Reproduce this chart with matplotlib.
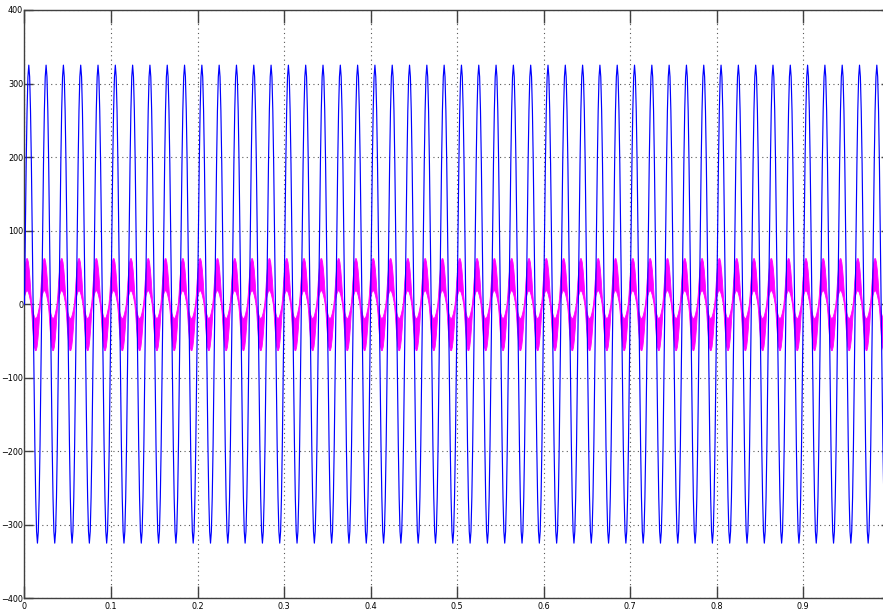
import numpy as np
import matplotlib
matplotlib.use("Agg")
import matplotlib.pyplot as plt

# one period (0.02 s, 20 samples), repeated 50 times
dt = 0.001
n_cycles = 50

voltage_cycle = [0, 100.4, 191.0, 262.9, 309.1, 325.0, 309.1, 262.9, 191.0, 100.4,
                 0, -100.4, -191.0, -262.9, -309.1, -325.0, -309.1, -262.9, -191.0, -100.4]

# magenta band (switching current): outer and inner edge of the ripple
current_upper = [47.0, 57.5, 62.5, 62.5, 57.5, 47.0, 32.0, 13.0, -0.4, -7.0,
                 -12.6, -16.6, -18.7, -18.7, -16.6, -12.6, -7.0, -0.4, 13.0, 32.0]
current_lower = [12.6, 16.6, 18.7, 18.7, 16.6, 12.6, 7.0, 0.4, -13.0, -32.0,
                 -47.0, -57.5, -62.5, -62.5, -57.5, -47.0, -32.0, -13.0, 0.4, 7.0]

x_ticks = [0, 0.1, 0.2, 0.3, 0.4, 0.5, 0.6, 0.7, 0.8, 0.9]
x_labels = ['0', '0.1', '0.2', '0.3', '0.4', '0.5', '0.6', '0.7', '0.8', '0.9']
y_ticks = [-400, -300, -200, -100, 0, 100, 200, 300, 400]


def main():
    t = np.arange(n_cycles * len(voltage_cycle) + 1) * dt
    v = np.tile(voltage_cycle, n_cycles + 1)[:len(t)]
    up = np.tile(current_upper, n_cycles + 1)[:len(t)]
    lo = np.tile(current_lower, n_cycles + 1)[:len(t)]
    grafico(t, v, up, lo)


def grafico(t, v, up, lo):
    fig = plt.figure(figsize=(8.83, 6.13), dpi=100)
    ax = fig.add_axes([0.0277, 0.024, 0.980, 0.9597])

    ax.fill_between(t, lo, up, color='#ff00ff', linewidth=0.6, edgecolor='#ff00ff', zorder=2)
    ax.plot(t, v, color='#0000ff', linewidth=0.85, zorder=3)

    ax.set_xlim(0, 1)
    ax.set_ylim(-400, 400)
    ax.set_xticks(x_ticks)
    ax.set_xticklabels(x_labels)
    ax.set_yticks(y_ticks)
    ax.grid(True, color='0.35', linestyle=(0, (1, 3)), linewidth=0.8)

    ax.tick_params(axis='x', direction='in', length=9, width=1, top=True,
                   labelsize=6.5, pad=3, color='0.25')
    ax.tick_params(axis='y', direction='in', length=6.5, width=1, right=True,
                   labelsize=6.5, pad=1, color='0.25')
    for lab in ax.get_xticklabels() + ax.get_yticklabels():
        lab.set_fontstretch('condensed')
    for s in ax.spines.values():
        s.set_color('0.25')
        s.set_linewidth(1.0)

    fig.savefig('out.png', dpi=100)


if __name__ == "__main__":
    main()
